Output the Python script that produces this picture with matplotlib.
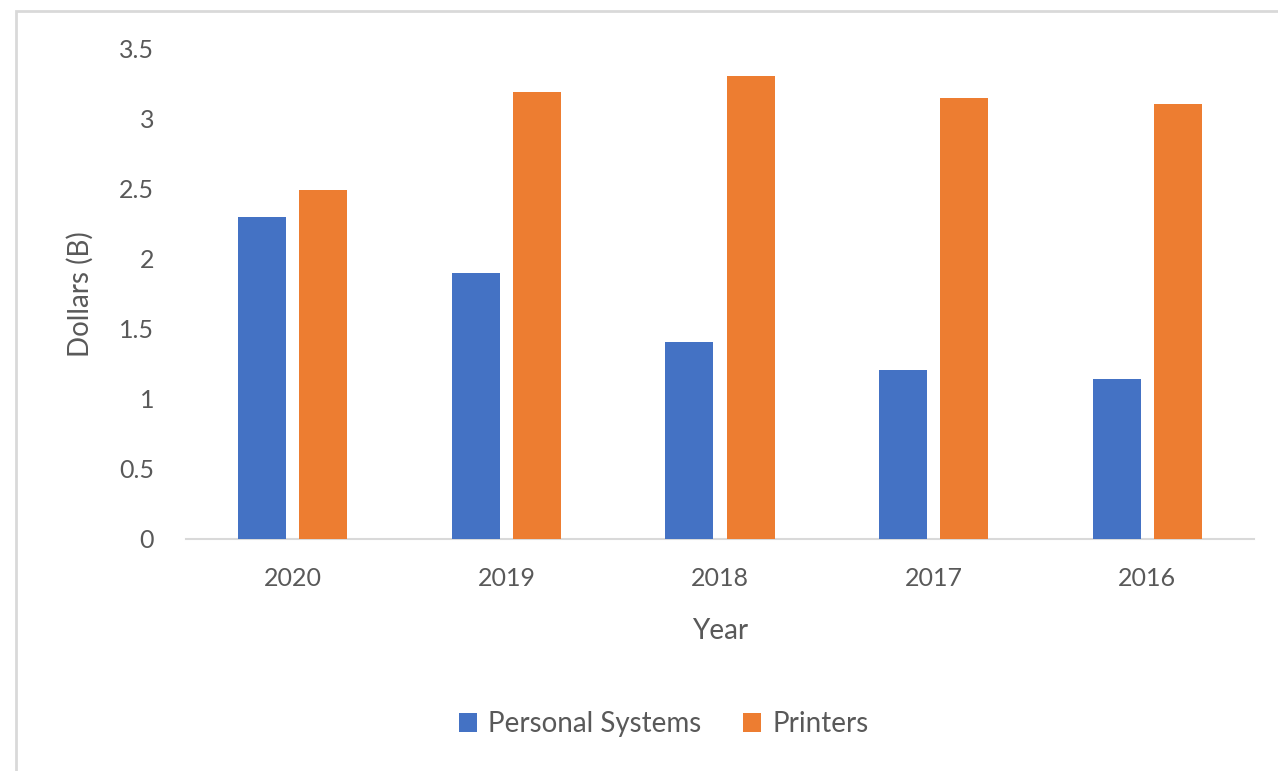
import matplotlib
matplotlib.use("Agg")
import matplotlib.pyplot as plt
from matplotlib.patches import Rectangle
import numpy as np

years = ["2020", "2019", "2018", "2017", "2016"]
personal_systems = [2.30, 1.90, 1.41, 1.21, 1.14]
printers = [2.49, 3.19, 3.31, 3.15, 3.11]
series_names = ["Personal Systems", "Printers"]
y_ticks = [0, 0.5, 1, 1.5, 2, 2.5, 3, 3.5]
y_tick_labels = ["0", "0.5", "1", "1.5", "2", "2.5", "3", "3.5"]

plt.rcParams['font.family'] = ['Lato', 'DejaVu Sans']
TXT = '#595959'
BLUE = '#4472C4'
ORANGE = '#ED7D31'

W, H = 1278, 771
fig = plt.figure(figsize=(W / 100, H / 100), dpi=100)

# chart frame (light gray border at top and left)
fig.patches.append(Rectangle((16 / W, -0.05), 1.1, (H - 11) / H + 0.05,
                             transform=fig.transFigure, fill=False,
                             edgecolor='#d9d9d9', linewidth=2))

ax = fig.add_axes([186 / W, (H - 539) / H, 1068 / W, 490 / H])
x = np.arange(len(years))
bw = 0.225
off = 0.143
ax.bar(x - off, personal_systems, bw, color=BLUE, label=series_names[0], zorder=3)
ax.bar(x + off, printers, bw, color=ORANGE, label=series_names[1], zorder=3)

ax.set_xlim(-0.5, len(years) - 0.5)
ax.set_ylim(0, 3.5)
ax.set_yticks(y_ticks)
ax.set_yticklabels(y_tick_labels)
ax.set_xticks(x)
ax.set_xticklabels(years)
ax.tick_params(axis='y', length=0, pad=23, labelsize=18, labelcolor=TXT)
ax.tick_params(axis='x', length=0, pad=20, labelsize=18, labelcolor=TXT)
for s in ['top', 'right', 'left']:
    ax.spines[s].set_visible(False)
ax.spines['bottom'].set_color('#d9d9d9')
ax.spines['bottom'].set_linewidth(1.5)

ax.set_ylabel("Dollars (B)", fontsize=20, color=TXT, labelpad=18)
ax.set_xlabel("Year", fontsize=20, color=TXT, labelpad=20)

leg = fig.legend(loc='center', bbox_to_anchor=(664 / W, 1 - 724 / H), ncol=2,
                 frameon=False, fontsize=20, handlelength=0.65, handleheight=0.65,
                 handletextpad=0.4, columnspacing=1.5, labelcolor=TXT)

fig.savefig("out.png", dpi=100)
